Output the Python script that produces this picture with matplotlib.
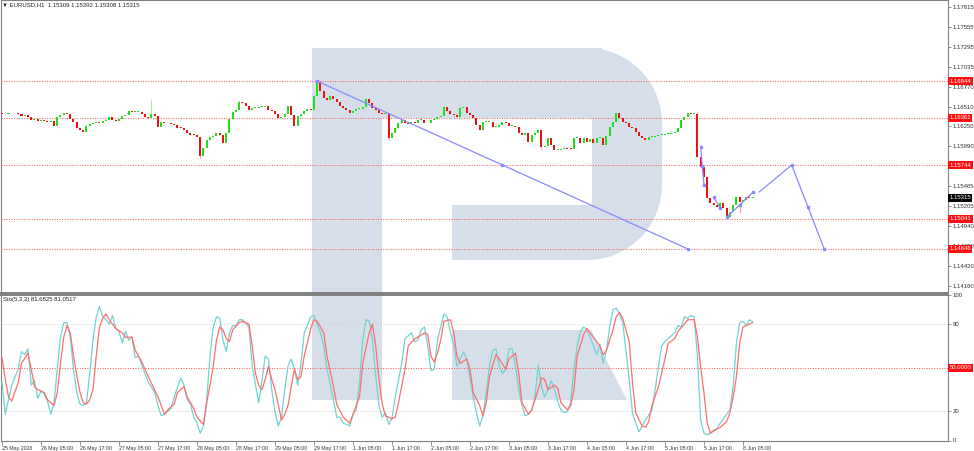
import numpy as np
import matplotlib.pyplot as plt
import matplotlib.transforms as mtransforms
from matplotlib.patches import Polygon, Rectangle

W, H = 974, 451

# EURUSD H1 closes, bar 0 = 25 May 17:00
closes = [
    1.16407, 1.16413, 1.16420, 1.16426, 1.16420, 1.16413, 1.16387, 1.16400, 1.16374, 1.16335,
    1.16348, 1.16322, 1.16335, 1.16328, 1.16308, 1.16322, 1.16256, 1.16374, 1.16400, 1.16420,
    1.16407, 1.16348, 1.16315, 1.16230, 1.16204, 1.16177, 1.16256, 1.16282, 1.16295, 1.16308,
    1.16295, 1.16322, 1.16335, 1.16374, 1.16335, 1.16328, 1.16348, 1.16387, 1.16400, 1.16453,
    1.16439, 1.16439, 1.16439, 1.16413, 1.16374, 1.16361, 1.16413, 1.16387, 1.16243, 1.16308,
    1.16295, 1.16289, 1.16276, 1.16269, 1.16236, 1.16230, 1.16204, 1.16164, 1.16144, 1.16138,
    1.16112, 1.15863, 1.15968, 1.16073, 1.16112, 1.16125, 1.16158, 1.16138, 1.16033, 1.16158,
    1.16348, 1.16439, 1.16466, 1.16570, 1.16557, 1.16518, 1.16466, 1.16492, 1.16492, 1.16505,
    1.16511, 1.16518, 1.16466, 1.16459, 1.16413, 1.16361, 1.16374, 1.16413, 1.16518, 1.16400,
    1.16256, 1.16387, 1.16413, 1.16453, 1.16479, 1.16466, 1.16649, 1.16832, 1.16715, 1.16623,
    1.16603, 1.16649, 1.16610, 1.16570, 1.16518, 1.16492, 1.16466, 1.16426, 1.16453, 1.16479,
    1.16485, 1.16505, 1.16610, 1.16557, 1.16492, 1.16466, 1.16426, 1.16413, 1.16426, 1.16099,
    1.16164, 1.16230, 1.16295, 1.16335, 1.16295, 1.16276, 1.16308, 1.16295, 1.16335, 1.16335,
    1.16295, 1.16289, 1.16335, 1.16348, 1.16378, 1.16387, 1.16505, 1.16453, 1.16413, 1.16400,
    1.16378, 1.16492, 1.16505, 1.16426, 1.16400, 1.16361, 1.16269, 1.16204, 1.16308, 1.16312,
    1.16312, 1.16243, 1.16247, 1.16269, 1.16312, 1.16299, 1.16256, 1.16256, 1.16239, 1.16164,
    1.16138, 1.16164, 1.16050, 1.16138, 1.16160, 1.16204, 1.15985, 1.15994, 1.16095, 1.16007,
    1.15942, 1.15942, 1.15951, 1.15959, 1.15955, 1.15951, 1.16095, 1.16095, 1.16037, 1.16095,
    1.16050, 1.16082, 1.16029, 1.16095, 1.16095, 1.16007, 1.16125, 1.16247, 1.16312, 1.16422,
    1.16357, 1.16312, 1.16291, 1.16247, 1.16226, 1.16181, 1.16125, 1.16095, 1.16073, 1.16116,
    1.16116, 1.16119, 1.16138, 1.16138, 1.16147, 1.16151, 1.16160, 1.16181, 1.16226, 1.16335,
    1.16378, 1.16422, 1.16413, 1.16413, 1.15854, 1.15722, 1.15592, 1.15309, 1.15247, 1.15221,
    1.15199, 1.15243, 1.15178, 1.15064, 1.15133, 1.15221, 1.15322, 1.15264, 1.15286, 1.15322,
    1.15309, 1.15315,
]
first_open = 1.16426
spike_high = {46: 1.16597, 97: 1.16846, 136: 1.16531, 214: 1.16440, 73: 1.16597}
spike_low = {61: 1.15837, 119: 1.16073, 223: 1.15041, 227: 1.15116, 166: 1.15955}

levels = [1.16844, 1.16361, 1.15744, 1.15041, 1.14646]
last_price = 1.15315
price_ticks = [1.17815, 1.17555, 1.17295, 1.17035, 1.16770, 1.16510, 1.16250,
               1.15990, 1.15465, 1.15205, 1.14940, 1.14680, 1.14420, 1.14160]
time_labels = ["25 May 2026", "26 May 05:00", "26 May 17:00", "27 May 05:00",
               "27 May 17:00", "28 May 05:00", "28 May 17:00", "29 May 05:00",
               "29 May 17:00", "1 Jun 05:00", "1 Jun 17:00", "2 Jun 05:00",
               "2 Jun 17:00", "3 Jun 05:00", "3 Jun 17:00", "4 Jun 05:00",
               "4 Jun 17:00", "5 Jun 05:00", "5 Jun 17:00", "8 Jun 05:00"]
time_ticks = list(range(0, 229, 12))

# Stochastic (5,3,3): (bar, value)
k_points = [
    (0, 40), (1, 18), (2, 28), (3, 38), (5, 49), (6, 61), (7, 59), (8, 63), (9, 38), (10, 41),
    (11, 29), (12, 34), (13, 32), (14, 27), (15, 18), (16, 26), (17, 49), (18, 71), (19, 81),
    (20, 81), (21, 71), (22, 49), (23, 33), (24, 25), (25, 24), (26, 26), (27, 46), (28, 69),
    (29, 85), (30, 92), (31, 85), (32, 83), (33, 80), (34, 86), (35, 77), (36, 75), (37, 67),
    (38, 75), (39, 69), (40, 71), (41, 57), (42, 58), (43, 52), (45, 40), (47, 33), (48, 24),
    (49, 17), (50, 18), (52, 22), (53, 30), (55, 43), (56, 38), (57, 28), (58, 25), (59, 16),
    (60, 12), (61, 5), (62, 10), (63, 28), (64, 58), (65, 78), (66, 85), (67, 84), (68, 69),
    (69, 61), (70, 74), (71, 79), (72, 79), (73, 83), (74, 83), (76, 78), (77, 51), (79, 26),
    (80, 41), (81, 58), (82, 56), (83, 35), (84, 20), (85, 10), (86, 16), (87, 35), (88, 51),
    (89, 56), (90, 49), (91, 38), (92, 53), (93, 74), (95, 85), (96, 86), (97, 80), (98, 74),
    (99, 65), (100, 49), (102, 28), (103, 16), (104, 16), (105, 12), (107, 10), (108, 18),
    (109, 21), (110, 40), (111, 69), (112, 83), (113, 82), (114, 69), (115, 44), (116, 24),
    (117, 16), (118, 19), (119, 11), (120, 15), (121, 30), (123, 53), (124, 70), (126, 74),
    (127, 68), (128, 69), (129, 76), (130, 78), (131, 65), (132, 48), (133, 49), (134, 69),
    (136, 87), (137, 85), (138, 74), (139, 66), (140, 51), (141, 56), (142, 61), (143, 56),
    (144, 42), (145, 30), (146, 19), (147, 10), (148, 17), (149, 33), (150, 51), (151, 62),
    (152, 63), (153, 51), (154, 46), (155, 49), (156, 63), (157, 63), (158, 51), (159, 35),
    (160, 24), (161, 17), (162, 18), (163, 21), (164, 30), (165, 52), (166, 37), (167, 30),
    (168, 35), (169, 41), (170, 35), (171, 27), (172, 21), (173, 19), (174, 20), (175, 26),
    (176, 49), (177, 65), (178, 75), (179, 78), (180, 76), (181, 71), (182, 65), (183, 59),
    (184, 66), (185, 53), (186, 62), (187, 78), (188, 90), (189, 91), (190, 87), (191, 81),
    (192, 62), (193, 42), (194, 19), (195, 12), (196, 6), (197, 10), (198, 14), (200, 21),
    (201, 35), (202, 51), (203, 65), (204, 68), (205, 70), (207, 74), (208, 79), (209, 78),
    (210, 85), (211, 84), (212, 86), (213, 85), (214, 58), (215, 14), (216, 5), (217, 4),
    (218, 5), (220, 8), (221, 12), (223, 18), (224, 21), (225, 37), (226, 67), (227, 81),
    (228, 82), (229, 79), (230, 83), (231, 81.68),
]
d_points = [
    (0, 57), (1, 42), (2, 30), (3, 27), (5, 40), (6, 53), (8, 60), (9, 49), (10, 37), (11, 35),
    (13, 33), (14, 28), (16, 24), (17, 33), (18, 53), (19, 71), (20, 79), (21, 74), (22, 58),
    (23, 45), (24, 33), (25, 26), (26, 25), (27, 28), (28, 35), (29, 58), (30, 78), (31, 84),
    (32, 87), (33, 83), (34, 80), (35, 77), (37, 74), (38, 71), (40, 71), (41, 62), (43, 54),
    (45, 44), (48, 30), (50, 18), (51, 21), (53, 25), (54, 33), (56, 37), (57, 30), (59, 22),
    (60, 16), (62, 11), (63, 26), (64, 38), (65, 51), (66, 69), (67, 78), (68, 76), (69, 70),
    (70, 68), (71, 76), (73, 81), (74, 82), (76, 80), (77, 65), (78, 46), (79, 38), (80, 35),
    (81, 42), (82, 51), (83, 42), (84, 35), (85, 25), (86, 14), (87, 18), (88, 24), (89, 37),
    (90, 49), (91, 42), (92, 44), (93, 58), (95, 77), (96, 83), (97, 82), (99, 74), (100, 58),
    (102, 37), (103, 25), (105, 16), (107, 12), (108, 18), (110, 30), (111, 53), (113, 74),
    (114, 80), (115, 65), (116, 42), (117, 25), (118, 17), (120, 15), (121, 16), (122, 26),
    (124, 49), (125, 65), (127, 70), (128, 71), (130, 74), (131, 73), (132, 58), (133, 54),
    (134, 60), (135, 69), (136, 82), (138, 83), (139, 74), (140, 58), (141, 53), (143, 56),
    (144, 49), (145, 33), (147, 24), (148, 17), (149, 26), (150, 44), (152, 59), (153, 56),
    (155, 49), (156, 56), (158, 60), (159, 46), (160, 26), (162, 18), (163, 21), (165, 35),
    (166, 43), (167, 42), (168, 35), (170, 38), (171, 36), (172, 26), (174, 21), (175, 24),
    (176, 35), (177, 58), (179, 73), (180, 77), (182, 71), (184, 65), (185, 59), (186, 62),
    (188, 76), (189, 85), (190, 88), (191, 84), (193, 68), (194, 40), (195, 19), (197, 10),
    (198, 9), (199, 13), (200, 24), (202, 37), (204, 56), (205, 67), (207, 70), (208, 75),
    (210, 80), (211, 83), (213, 83), (214, 71), (215, 50), (216, 33), (217, 12), (218, 5),
    (219, 7), (221, 9), (223, 13), (224, 19), (225, 30), (226, 44), (227, 67), (228, 78),
    (230, 80), (231, 81.05),
]

# drawn objects (bar, price)
trend_x = [97, 154, 211]
trend_y = [1.16844, 1.15745, 1.14646]
fcst_x = [233, 243, 248, 253]
fcst_y = [1.15392, 1.15744, 1.15195, 1.14646]
wave_a_x, wave_a_y = [215, 215.5, 216], [1.15981, 1.15732, 1.15483]
wave_b_x, wave_b_y = [219, 221], [1.15322, 1.15182]
wave_c_x, wave_c_y = [223, 227, 231], [1.15064, 1.15221, 1.15385]

plt.rcParams['font.family'] = ['Liberation Sans', 'DejaVu Sans']

fig = plt.figure(figsize=(W / 100, H / 100), dpi=100)
fig.patch.set_facecolor('white')

# watermark logo (pixel coords, y down)
px = mtransforms.Affine2D().scale(1 / W, -1 / H).translate(0, 1) + fig.transFigure
wm = '#d5dee9'
a1 = np.linspace(np.pi / 2, 0, 20)
a2 = np.linspace(0, -np.pi / 2, 20)
bowl = [(452, 48), (587, 48)]
bowl += [(587 + 75 * np.cos(a), 123 - 75 * np.sin(a)) for a in a1]
bowl += [(587 + 75 * np.cos(a), 185 - 75 * np.sin(a)) for a in a2]
bowl += [(452, 260)]
fig.patches.append(Polygon(bowl, closed=True, fc=wm, ec='none', transform=px, zorder=-3))
fig.patches.append(Rectangle((312, 48), 290, 70, fc=wm, ec='none', transform=px, zorder=-3))
fig.patches.append(Rectangle((382, 118), 210, 87, fc='white', ec='none', transform=px, zorder=-2))
fig.patches.append(Rectangle((312, 48), 70, 352, fc=wm, ec='none', transform=px, zorder=-1))
fig.patches.append(Polygon([(452, 330), (591, 330), (627, 400), (452, 400)], closed=True,
                           fc=wm, ec='none', transform=px, zorder=-1))

ax = fig.add_axes([0.5 / W, 1 - 293 / H, 947.5 / W, 293 / H])
ax2 = fig.add_axes([0.5 / W, (H - 440.5) / H, 947.5 / W, (440.5 - 295) / H])
for a in (ax, ax2):
    a.set_facecolor('none')
    a.set_xlim(-0.46, 291.1)
    for s in a.spines.values():
        s.set_color('#808080')
        s.set_linewidth(0.8)
ax.spines['bottom'].set_linewidth(1.4)
ax2.spines['top'].set_linewidth(1.4)
ax.set_ylim(1.14068, 1.17907)
ax2.set_ylim(0.4, 100)

# candles
c = np.array(closes)
o = np.array([first_open] + closes[:-1])
x = np.arange(len(c))
up = c >= o
lo = np.minimum(o, c)
hgt = np.maximum(np.abs(c - o), 0.00012)
ax.bar(x[up], hgt[up], bottom=lo[up], width=0.62, color='#1fe01f', linewidth=0, zorder=3)
ax.bar(x[~up], hgt[~up], bottom=lo[~up], width=0.62, color='#ee1111', linewidth=0, zorder=3)
for i, hv in spike_high.items():
    col = '#9bee9b' if up[i] else '#ff9a9a'
    ax.vlines(i, max(o[i], c[i]), hv, color=col, lw=0.8, zorder=2)
for i, lv in spike_low.items():
    col = '#9bee9b' if up[i] else '#ff9a9a'
    ax.vlines(i, lv, min(o[i], c[i]), color=col, lw=0.8, zorder=2)

FS = 4.3

# levels
lbl = mtransforms.blended_transform_factory(ax.transAxes, ax.transData)
for lv in levels:
    ax.axhline(lv, color='#ff5050', lw=0.7, ls=(0, (1, 1.6)), zorder=1)
    ax.text(1.0015, lv, f'{lv:.5f}', transform=lbl, fontsize=FS, color='white', va='center',
            ha='left', clip_on=False, zorder=5,
            bbox=dict(fc='#ff1010', ec='none', pad=1.0))
ax.text(1.0015, last_price, f'{last_price:.5f}', transform=lbl, fontsize=FS, color='white',
        va='center', ha='left', clip_on=False, zorder=6,
        bbox=dict(fc='black', ec='none', pad=1.0))

# drawn lines
blue = '#8a8aff'
ax.plot(trend_x, trend_y, color=blue, lw=0.9, marker='s', ms=2, zorder=4)
ax.plot(fcst_x, fcst_y, color=blue, lw=0.9, marker='s', ms=2, markevery=[1, 2, 3], zorder=4)
for wx, wy in [(wave_a_x, wave_a_y), (wave_b_x, wave_b_y), (wave_c_x, wave_c_y)]:
    ax.plot(wx, wy, color=blue, lw=0.9, marker='s', ms=2, zorder=4)

ax.yaxis.tick_right()
ax.set_yticks(price_ticks)
ax.set_yticklabels([f'{t:.5f}' for t in price_ticks])
ax.tick_params(axis='y', length=2, width=0.6, pad=1.5, labelsize=FS, colors='#808080',
               labelcolor='#333333')
ax.set_xticks([])

# stochastic
kx, kv = zip(*k_points)
dx, dv = zip(*d_points)
ax2.axhline(80, color='#cfcfcf', lw=0.7, ls=(0, (1, 1.6)))
ax2.axhline(20, color='#cfcfcf', lw=0.7, ls=(0, (1, 1.6)))
ax2.axhline(50, color='#ff5050', lw=0.7, ls=(0, (1, 1.6)))
ax2.plot(kx, kv, color='#74d2d2', lw=0.9, zorder=3)
ax2.plot(dx, dv, color='#ff6e6e', lw=0.9, zorder=3)
lbl2 = mtransforms.blended_transform_factory(ax2.transAxes, ax2.transData)
ax2.text(1.0015, 50, '50.0000', transform=lbl2, fontsize=FS, color='white', va='center',
         ha='left', clip_on=False, bbox=dict(fc='#ff1010', ec='none', pad=1.0))
ax2.yaxis.tick_right()
ax2.set_yticks([100, 80, 20, 0])
ax2.set_yticklabels(['100', '80', '20', '0'])
ax2.tick_params(axis='y', length=2, width=0.6, pad=1.5, labelsize=FS, colors='#808080',
                labelcolor='#333333')
ax2.set_xticks(time_ticks)
ax2.set_xticklabels(time_labels, ha='left')
ax2.tick_params(axis='x', length=3, width=0.6, pad=1, labelsize=3.8, colors='#808080',
                labelcolor='#333333')

fig.text(2 / W, 1 - 5 / H, '\u25bc EURUSD,H1  1.15309 1.15392 1.15308 1.15315', fontsize=FS,
         va='center', color='#222222')
fig.text(3 / W, 1 - 300 / H, 'Sto(5,3,3) 81.6825 81.0517', fontsize=FS, va='center',
         color='#222222')

fig.savefig('out.png', dpi=100)
